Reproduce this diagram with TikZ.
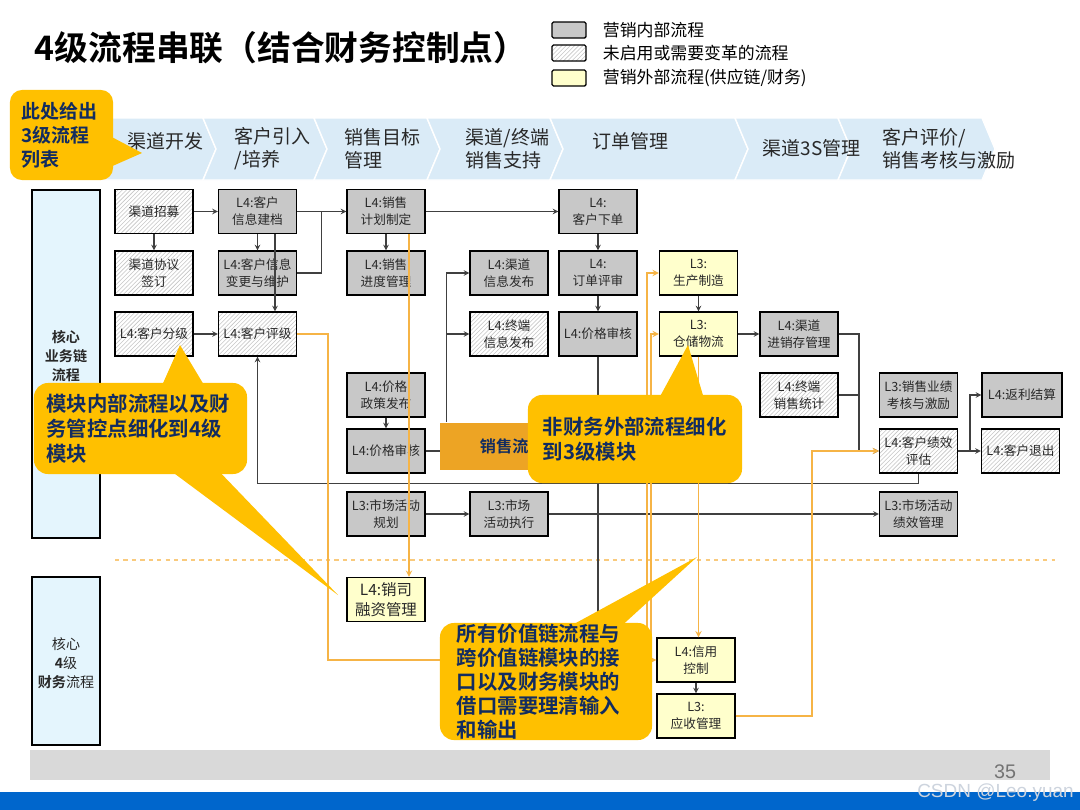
\documentclass[tikz,border=0pt]{standalone}
\usepackage{fontspec}
\setmainfont{Noto Sans CJK SC}[BoldFont={Noto Sans CJK SC Bold}]
\newfontfamily\wmfont{Liberation Sans}
\usepackage{xcolor}
\usepackage{tikz}
\usetikzlibrary{shapes.geometric, arrows, positioning, calc, patterns}

\definecolor{procgray}{RGB}{200,200,200}
\definecolor{procyellow}{RGB}{255,255,204}
\definecolor{chevblue}{RGB}{218,235,247}
\definecolor{lanefill}{RGB}{228,245,253}
\definecolor{calloutyellow}{RGB}{255,192,0}
\definecolor{navy}{RGB}{18,44,96}
\definecolor{linegray}{RGB}{64,64,64}
\definecolor{lineorange}{RGB}{246,180,70}
\definecolor{boxorange}{RGB}{237,164,36}
\definecolor{textgray}{RGB}{40,40,40}
\definecolor{barblue}{RGB}{0,102,204}
\definecolor{wmgray}{RGB}{205,212,222}

\tikzstyle{arrow} = [line width=0.8pt, draw=linegray, ->, >=stealth]
\tikzstyle{farrow} = [line width=1pt, draw=lineorange, ->, >=stealth]

\begin{document}
\begin{tikzpicture}[
    x=0.025cm, y=-0.025cm,
    conn/.style={line width=0.8pt, draw=linegray},
    fline/.style={line width=1pt, draw=lineorange},
    box/.style={rectangle, draw=black, line width=0.9pt, minimum width=1.95cm, minimum height=1.1cm, inner sep=1pt, align=center, text=textgray, font=\fontsize{9}{12}\selectfont},
    inproc/.style={box, fill=procgray},
    unproc/.style={box, preaction={fill=white}, pattern=north east lines, pattern color=gray!45},
    exproc/.style={box, fill=procyellow},
    lane/.style={rectangle, draw=black, line width=0.9pt, fill=lanefill, minimum width=1.7cm},
    lanetext/.style={align=center, text=textgray, font=\fontsize{10}{13.5}\selectfont},
    callout/.style={rectangle, rounded corners=0.35cm, fill=calloutyellow, text=navy, align=left, font=\bfseries\fontsize{14.5}{17.7}\selectfont},
    phase/.style={anchor=west, align=left, text=textgray, font=\fontsize{13.5}{16.3}\selectfont}
]
    \useasboundingbox (0,0) rectangle (1080,810);
    \fill[white] (0,0) rectangle (1080,810);

    % title and legend
    \node[anchor=west, font=\bfseries\fontsize{24}{28}\selectfont] (title) at (30,48) {4级流程串联（结合财务控制点）};
    \node[inproc, minimum width=0.85cm, minimum height=0.4cm, rounded corners=1pt] (lg1) at (569,30) {};
    \node[unproc, minimum width=0.85cm, minimum height=0.4cm, rounded corners=1pt] (lg2) at (569,53) {};
    \node[exproc, minimum width=0.85cm, minimum height=0.4cm, rounded corners=1pt] (lg3) at (569,78) {};
    \node[anchor=west, font=\fontsize{12}{14}\selectfont] (lt1) at (598,30) {营销内部流程};
    \node[anchor=west, font=\fontsize{12}{14}\selectfont] (lt2) at (598,53) {未启用或需要变革的流程};
    \node[anchor=west, font=\fontsize{12}{14}\selectfont] (lt3) at (598,78) {营销外部流程(供应链/财务)};

    % value chain
    \foreach \a/\b in {100/203,203/314,314/427,427/550,550/735,735/838,838/982}
        \filldraw[fill=chevblue, draw=white, line width=1pt] (\a,118) -- (\b,118) -- (\b+13,149) -- (\b,180) -- (\a,180) -- (\a+13,149) -- cycle;
    \node[phase] (ph1) at (123,141) {渠道开发};
    \node[phase] (ph2) at (230,148.5) {客户引入\\/培养};
    \node[phase] (ph3) at (340,148.5) {销售目标\\管理};
    \node[phase] (ph4) at (461,148.5) {渠道/终端\\销售支持};
    \node[phase] (ph5) at (588,141) {订单管理};
    \node[phase] (ph6) at (758,148) {渠道3S管理};
    \node[phase] (ph7) at (878,148.5) {客户评价/\\销售考核与激励};

    % lanes
    \node[lane, minimum height=8.7cm] (lane1) at (66,364) {};
    \node[lanetext] (lane1t) at (66,356) {\textbf{核心}\\\textbf{业务链}\\\textbf{流程}};
    \node[lane, minimum height=4.2cm] (lane2) at (66,661) {};
    \node[lanetext] (lane2t) at (66,663) {核心\\\textbf{4}级\\\textbf{财务}流程};
    \draw[lineorange!70, dashed, line width=0.8pt] (115,560) -- (1055,560);

    % processes
    \node[unproc] (zm) at (154,211.5) {渠道招募};
    \node[unproc] (qy) at (154,273) {渠道协议\\签订};
    \node[unproc] (fj) at (154,334) {L4:客户分级};
    \node[inproc] (jd) at (257.5,211.5) {L4:客户\\信息建档};
    \node[inproc] (bg) at (257.5,273) {L4:客户信息\\变更与维护};
    \node[unproc] (pj) at (257.5,334) {L4:客户评级};
    \node[inproc] (jh) at (386,211.5) {L4:销售\\计划制定};
    \node[inproc] (jdg) at (386,273) {L4:销售\\进度管理};
    \node[inproc] (zc) at (386,395) {L4:价格\\政策发布};
    \node[inproc] (sh1) at (386,451) {L4:价格审核};
    \node[inproc] (gh) at (386,514) {L3:市场活动\\规划};
    \node[exproc, font=\fontsize{11}{14}\selectfont] (rz) at (386,599.5) {L4:销司\\融资管理};
    \node[inproc] (fb1) at (509,273) {L4:渠道\\信息发布};
    \node[unproc] (fb2) at (509,334) {L4:终端\\信息发布};
    \node[inproc] (zx) at (509,514) {L3:市场\\活动执行};
    \node[inproc] (xd) at (598,211.5) {L4:\\客户下单};
    \node[inproc] (ps) at (598,273) {L4:\\订单评审};
    \node[inproc] (sh2) at (598,334) {L4:价格审核};
    \node[exproc] (sc) at (698.5,273) {L3:\\生产制造};
    \node[exproc] (cc) at (698.5,334) {L3:\\仓储物流};
    \node[exproc] (xk) at (696,660) {L4:信用\\控制};
    \node[exproc] (ys) at (696,716) {L3:\\应收管理};
    \node[inproc] (jxc) at (799,334) {L4:渠道\\进销存管理};
    \node[unproc] (tj) at (799,395) {L4:终端\\销售统计};
    \node[inproc] (kh) at (918.5,395) {L3:销售业绩\\考核与激励};
    \node[unproc] (px) at (918.5,451) {L4:客户绩效\\评估};
    \node[inproc] (jx) at (918.5,514) {L3:市场活动\\绩效管理};
    \node[inproc, minimum width=2cm] (fl) at (1022,395) {L4:返利结算};
    \node[unproc] (tc) at (1020.5,451) {L4:客户退出};

    % flows
    \draw[arrow] (zm) -- (jd);
    \draw[arrow] (zm) -- (qy);
    \draw[arrow] (jd) -- (bg);
    \draw[arrow] ([xshift=0.4375cm]jd.south) -- ([xshift=0.4375cm]pj.north);
    \draw[arrow] (jd) -- (jh);
    \draw[conn] (bg.east) -| ($(jd.east)!0.5!(jh.west)$);
    \draw[arrow] (fj) -- (pj);
    \draw[arrow] (jh) -- (jdg);
    \draw[arrow] (jh) -- (xd);
    \draw[arrow] (xd) -- (ps);
    \draw[arrow] (ps) -- (sh2);
    \draw[arrow] (zc) -- (sh1);
    \draw[arrow] (sc) -- (cc);
    \draw[arrow] (cc) -- (jxc);
    \draw[arrow] (xk) -- (ys);
    \draw[arrow] (gh) -- (zx);
    \draw[arrow] (zx) -- (jx);
    \draw[arrow] (px.south) -- ++(0,10) -| (pj.south);
    \coordinate (hid1) at (598,650);
    \draw[conn] (sh2) -- (hid1);
    \coordinate (mg) at (859,451);
    \draw[conn] (jxc.east) -| (mg);
    \draw[conn] (tj.east) -- (tj.east -| mg);
    \draw[arrow] (mg) -- (px.west);
    \draw[arrow] (px) -- (tc);
    \coordinate (sp) at (970,451);
    \draw[arrow] (sp) |- (fl);

    % finance links
    \coordinate (o1) at (328,660);
    \draw[farrow] (pj.east) -| (o1) -- (xk.west);
    \draw[farrow] ([xshift=0.575cm]jh.south) -- ([xshift=0.575cm]rz.north);
    \coordinate (o3a) at (647,690);
    \coordinate (o3b) at (651,690);
    \draw[farrow] (o3a) |- (sc.west);
    \draw[farrow] (o3b) |- (cc.west);
    \draw[farrow] (cc.south) -- (cc.south |- xk.north);
    \coordinate (o5) at (812,451);
    \draw[farrow] (ys.east) -| (o5) -- (px.west);

    % sales block
    \node[rectangle, fill=boxorange, minimum width=3.75cm, minimum height=1.175cm, inner xsep=1cm, text width=1.75cm, align=left, text=navy, font=\bfseries\fontsize{11.5}{14}\selectfont] (xsbox) at (515,446) {销售流};
    \draw[conn] (sh1) -- (sh1 -| xsbox.west);
    \coordinate (fork) at ([xshift=0.175cm]xsbox.north west);
    \draw[arrow] (fork) |- (fb1);
    \draw[arrow] (fork |- fb2) -- (fb2);

    % callouts
    \fill[calloutyellow] (108,135) -- (142,153) -- (108,168) -- cycle;
    \node[callout, rounded corners=0.3cm, minimum width=2.575cm, minimum height=2.25cm, text width=2cm, font=\bfseries\fontsize{13.5}{17}\selectfont] (calT) at (61.5,135) {此处给出\\3级流程\\列表};
    \fill[calloutyellow] (160,390) -- (180,345) -- (207,390) -- cycle;
    \fill[calloutyellow] (163,465) -- (338,595) -- (213,465) -- cycle;
    \node[callout, minimum width=5.325cm, minimum height=2.275cm, text width=4.7cm] (calA) at (140.5,428.5) {模块内部流程以及财\\务管控点细化到4级\\模块};
    \fill[calloutyellow] (657,402) -- (688,345) -- (705,402) -- cycle;
    \node[callout, minimum width=5.35cm, minimum height=2.2cm, text width=4.6cm] (calB) at (635,439) {非财务外部流程细化\\到3级模块};
    \fill[calloutyellow] (563,630) -- (697,557) -- (617,630) -- cycle;
    \node[callout, minimum width=5.3cm, minimum height=2.925cm, inner ysep=0pt, text width=4.45cm, font=\bfseries\fontsize{14.5}{17}\selectfont] (calC) at (546,681.5) {所有价值链流程与\\跨价值链模块的接\\口以及财务模块的\\借口需要理清输入\\和输出};

    % footer
    \fill[black!15] (30,750) rectangle (1050,780);
    \node[text=black!55, font=\wmfont\fontsize{14}{16}\selectfont] (pg) at (1005,772) {35};
    \fill[barblue] (0,792) rectangle (1080,810);
    \node[anchor=east, text=wmgray, inner sep=0pt, font=\wmfont\fontsize{13.5}{16}\selectfont] (wm) at (1074,793) {CSDN @Leo.yuan};
\end{tikzpicture}
\end{document}
